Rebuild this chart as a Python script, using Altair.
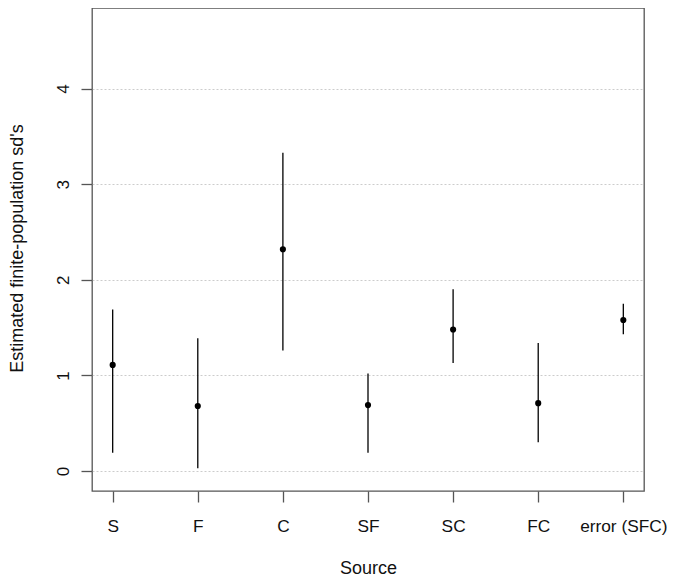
import altair as alt
import pandas as pd

sources = ["S", "F", "C", "SF", "SC", "FC", "error (SFC)"]
estimates = [1.11, 0.68, 2.32, 0.69, 1.48, 0.71, 1.58]
lower = [0.19, 0.03, 1.26, 0.19, 1.13, 0.30, 1.43]
upper = [1.69, 1.39, 3.33, 1.02, 1.90, 1.34, 1.75]
y_ticks = [0, 1, 2, 3, 4]

df = pd.DataFrame({"source": sources, "est": estimates, "lo": lower, "hi": upper})

FONT = "Liberation Sans"
x_enc = alt.X(
    "source:N",
    sort=sources,
    scale=alt.Scale(type="point", padding=0.243),
    axis=alt.Axis(
        title="Source",
        labelAngle=0,
        labelFont=FONT,
        labelFontSize=17.3,
        labelColor="#111111",
        labelBaseline="alphabetic",
        labelPadding=29,
        tickSize=11,
        tickColor="#555555",
        tickWidth=1.3,
        domain=False,
        grid=False,
        titleFont=FONT,
        titleFontSize=18,
        titleFontWeight="normal",
        titleColor="#111111",
        titleBaseline="alphabetic",
        titleY=82,
        titleX=276,
        titleAlign="center",
    ),
)
y_scale = alt.Scale(domain=[-0.209, 4.843], nice=False, zero=False)

rules = alt.Chart(df).mark_rule(color="#000000", strokeWidth=1.3).encode(
    x=x_enc,
    y=alt.Y(
        "lo:Q",
        scale=y_scale,
        axis=alt.Axis(
            title="Estimated finite-population sd's",
            values=y_ticks,
            format="d",
            labelAngle=270,
            labelAlign="center",
            labelBaseline="alphabetic",
            labelPadding=13,
            labelFont=FONT,
            labelFontSize=17,
            labelColor="#111111",
            tickSize=11,
            tickColor="#555555",
            tickWidth=1.3,
            domain=False,
            grid=True,
            gridColor="#cccccc",
            gridDash=[2, 2],
            gridWidth=1,
            titleFont=FONT,
            titleFontSize=18,
            titleFontWeight="normal",
            titleColor="#111111",
            titleAngle=270,
            titleAlign="center",
            titleBaseline="alphabetic",
            titleX=-70,
            titleY=240,
        ),
    ),
    y2="hi:Q",
)

points = alt.Chart(df).mark_circle(color="#000000", opacity=1, size=38).encode(
    x=alt.X("source:N", sort=sources),
    y=alt.Y("est:Q"),
)

chart = (
    alt.layer(rules, points)
    .properties(
        width=552,
        height=483,
        autosize=alt.AutoSizeParams(type="none"),
        padding={"left": 84, "top": 0, "right": 23, "bottom": 86},
    )
    .configure_view(stroke="#555555", strokeWidth=1.3)
)

chart.save("out.html", embed_options={"renderer": "svg", "actions": False})
